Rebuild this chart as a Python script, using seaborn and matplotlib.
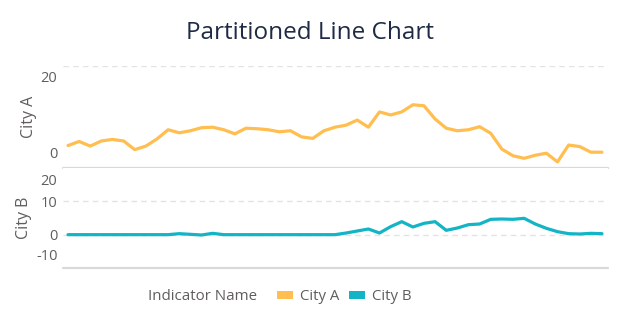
import matplotlib
matplotlib.use("Agg")
import matplotlib.pyplot as plt
import matplotlib.transforms as mtransforms
from matplotlib.patches import Patch
import seaborn as sns
import pandas as pd

# ---- data ----
period = list(range(49))
city_a = [4.4, 5.2, 4.3, 5.3, 5.6, 5.3, 3.6, 4.3, 5.7, 7.5,
          6.9, 7.3, 7.9, 8.0, 7.5, 6.7, 7.8, 7.7, 7.5, 7.1,
          7.3, 6.1, 5.8, 7.3, 8.0, 8.4, 9.4, 8.0, 11.0, 10.4,
          11.0, 12.4, 12.2, 9.6, 7.8, 7.3, 7.5, 8.1, 6.8, 3.7,
          2.4, 1.9, 2.5, 2.9, 1.2, 4.5, 4.2, 3.1, 3.1]
city_b = [0.0, 0.0, 0.0, 0.0, 0.0, 0.0, 0.0, 0.0, 0.0, 0.0,
          0.3, 0.1, -0.1, 0.4, 0.0, 0.0, 0.0, 0.0, 0.0, 0.0,
          0.0, 0.0, 0.0, 0.0, 0.0, 0.5, 1.1, 1.7, 0.5, 2.4,
          3.9, 2.3, 3.4, 3.9, 1.3, 2.0, 3.0, 3.2, 4.6, 4.7,
          4.6, 4.9, 3.2, 1.9, 0.9, 0.3, 0.2, 0.4, 0.3]
series_names = ["City A", "City B"]
ticks_a = [0, 20]
ticks_b = [-10, 0, 10, 20]
title = "Partitioned Line Chart"
legend_title = "Indicator Name"

colors = {"City A": "#FFBE4F", "City B": "#13B4C6"}
text_gray = "#605E5C"
grid_gray = "#E3E3E3"
solid_gray = "#D9D9D9"

sns.set_style("white")
plt.rcParams["font.family"] = ["Open Sans", "DejaVu Sans"]

df = pd.DataFrame({"period": period * 2,
                   "value": city_a + city_b,
                   "series": ["City A"] * len(period) + ["City B"] * len(period)})

fig = plt.figure(figsize=(6.2, 3.28), dpi=100)
W, H = 620, 328
left, right = 63, 608
axA = fig.add_axes([left / W, 1 - 168 / H, (right - left) / W, 102 / H])
axB = fig.add_axes([left / W, 1 - 268 / H, (right - left) / W, 100 / H])

xl = (-5 / 11.125, 48 + 6 / 11.125)

def style(ax, ticks, ylim, dashed, solid, label, offsets):
    ax.set_xlim(*xl)
    ax.set_ylim(*ylim)
    for s in ax.spines.values():
        s.set_visible(False)
    ax.set_xticks([])
    ax.set_yticks(ticks)
    ax.set_yticklabels([str(t) for t in ticks])
    ax.tick_params(axis="y", length=0, pad=4, labelsize=10.5, labelcolor=text_gray)
    for y in dashed:
        ax.axhline(y, color=grid_gray, lw=1.0, ls=(0, (4, 3)), zorder=0)
    for y in solid:
        ax.axhline(y, color=solid_gray, lw=1.6, zorder=0, clip_on=False)
    for lab, dy in zip(ax.get_yticklabels(), offsets):
        lab.set_transform(lab.get_transform() +
                          mtransforms.ScaledTranslation(0, dy / 100, fig.dpi_scale_trans))
    ax.set_ylabel(label, fontsize=11.5, color=text_gray, labelpad=3)
    ax.set_xlabel("")

sns.lineplot(data=df[df.series == "City A"], x="period", y="value",
             color=colors["City A"], lw=2.3, ax=axA, legend=False)
sns.lineplot(data=df[df.series == "City B"], x="period", y="value",
             color=colors["City B"], lw=2.3, ax=axB, legend=False)
for ax in (axA, axB):
    for ln in ax.get_lines():
        ln.set_solid_joinstyle("round")
        ln.set_solid_capstyle("round")

style(axA, ticks_a, (0, 20), [20], [0], "City A", [15, -11])
style(axB, ticks_b, (-10, 20), [10, 0], [-10], "City B", [13, 0, 0, -12])

fig.text(0.5, 1 - 33 / H, title, ha="center", va="center",
         fontsize=17.5, color="#1F2B45")

handles = [Patch(facecolor=colors[n], edgecolor="none") for n in series_names]
fig.text(148 / W, 1 - 297 / H, legend_title, ha="left", va="center",
         fontsize=10.8, color=text_gray)
leg = fig.legend(handles, series_names, loc="center left",
                 bbox_to_anchor=(277 / W, 1 - 297 / H), ncol=2, frameon=False,
                 fontsize=10.8, handlelength=1.05, handleheight=0.45,
                 handletextpad=0.45, columnspacing=0.7, borderaxespad=0,
                 borderpad=0)
for t in leg.get_texts():
    t.set_color(text_gray)

fig.savefig("out.png", dpi=100)
